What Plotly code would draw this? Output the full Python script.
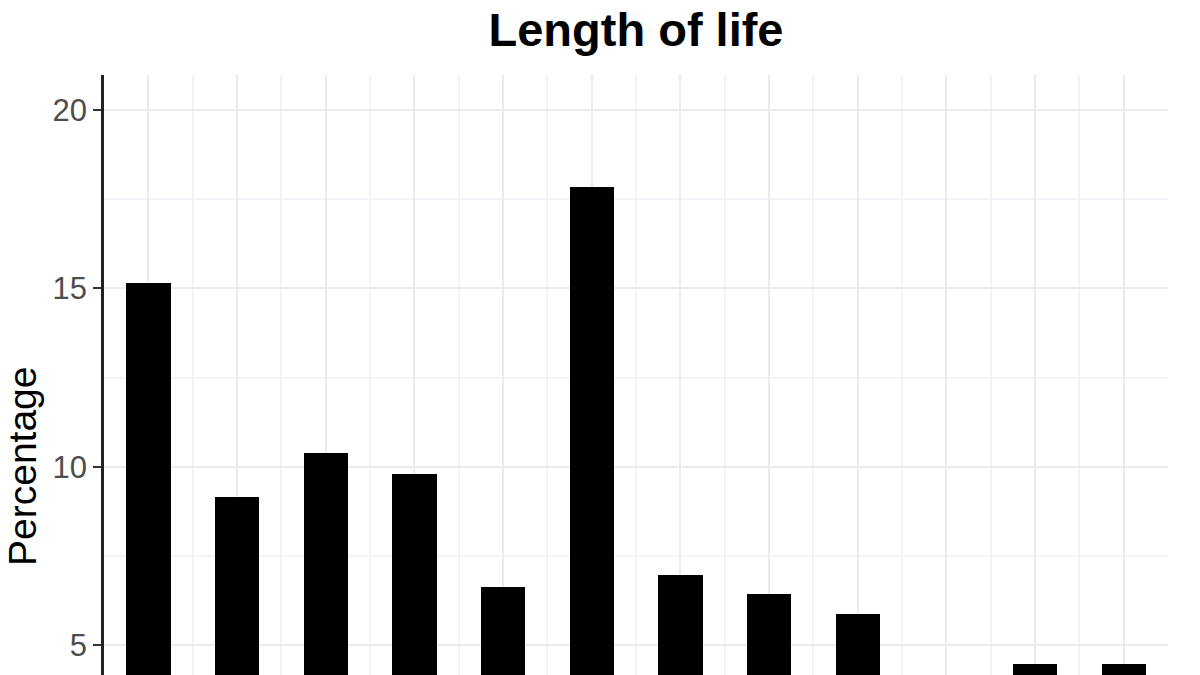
import plotly.graph_objects as go

# Data (bar 10 falls below the visible area)
positions = [1, 2, 3, 4, 5, 6, 7, 8, 9, 10, 11, 12]
percentages = [15.15, 9.15, 10.38, 9.8, 6.63, 17.85, 6.95, 6.43, 5.87, 3.9, 4.47, 4.47]
y_ticks = [5, 10, 15, 20]
title_text = "Length of life"
y_title = "Percentage"

W, H = 1200, 675

fig = go.Figure()
fig.add_trace(go.Bar(
    x=positions, y=percentages, width=0.5,
    marker=dict(color="black", line=dict(width=0)),
    showlegend=False, hoverinfo="skip",
))

fig.update_layout(
    width=W, height=H,
    margin=dict(l=104, r=32, t=75, b=0, autoexpand=False),
    paper_bgcolor="white", plot_bgcolor="white",
    title=dict(text=f"<b>{title_text}</b>", x=0.5, xref="paper", xanchor="center",
               y=1 - 30 / H, yanchor="middle",
               font=dict(family="Liberation Sans, Arial, sans-serif", size=47, color="black")),
    bargap=0,
)

fig.update_xaxes(
    range=[0.5, 12.5], tickvals=positions, showticklabels=False, ticks="",
    showgrid=True, gridcolor="#EBEAEF", gridwidth=2,
    minor=dict(tick0=0.5, dtick=1, showgrid=True, gridcolor="#F4F3F7", gridwidth=2),
    showline=False, zeroline=False,
)
fig.update_yaxes(
    range=[4.16, 20.98], tickvals=y_ticks,
    ticks="outside", ticklen=8, tickwidth=2, tickcolor="#333333",
    tickfont=dict(family="Liberation Sans, Arial, sans-serif", size=31, color="#4D4D4D"),
    showgrid=True, gridcolor="#EBEAEF", gridwidth=2,
    minor=dict(tick0=2.5, dtick=5, showgrid=True, gridcolor="#F4F3F7", gridwidth=2),
    showline=True, linecolor="#222222", linewidth=2.5, zeroline=False,
)

fig.add_annotation(
    text=y_title, xref="paper", yref="paper",
    x=(22 - 104) / 1064, y=(675 - 467) / 600,
    xanchor="center", yanchor="middle", textangle=-90, showarrow=False,
    font=dict(family="Liberation Sans, Arial, sans-serif", size=39, color="black"),
)

fig.write_html("out.html", config={"displayModeBar": False},
               post_script="document.body.style.margin='0';")
